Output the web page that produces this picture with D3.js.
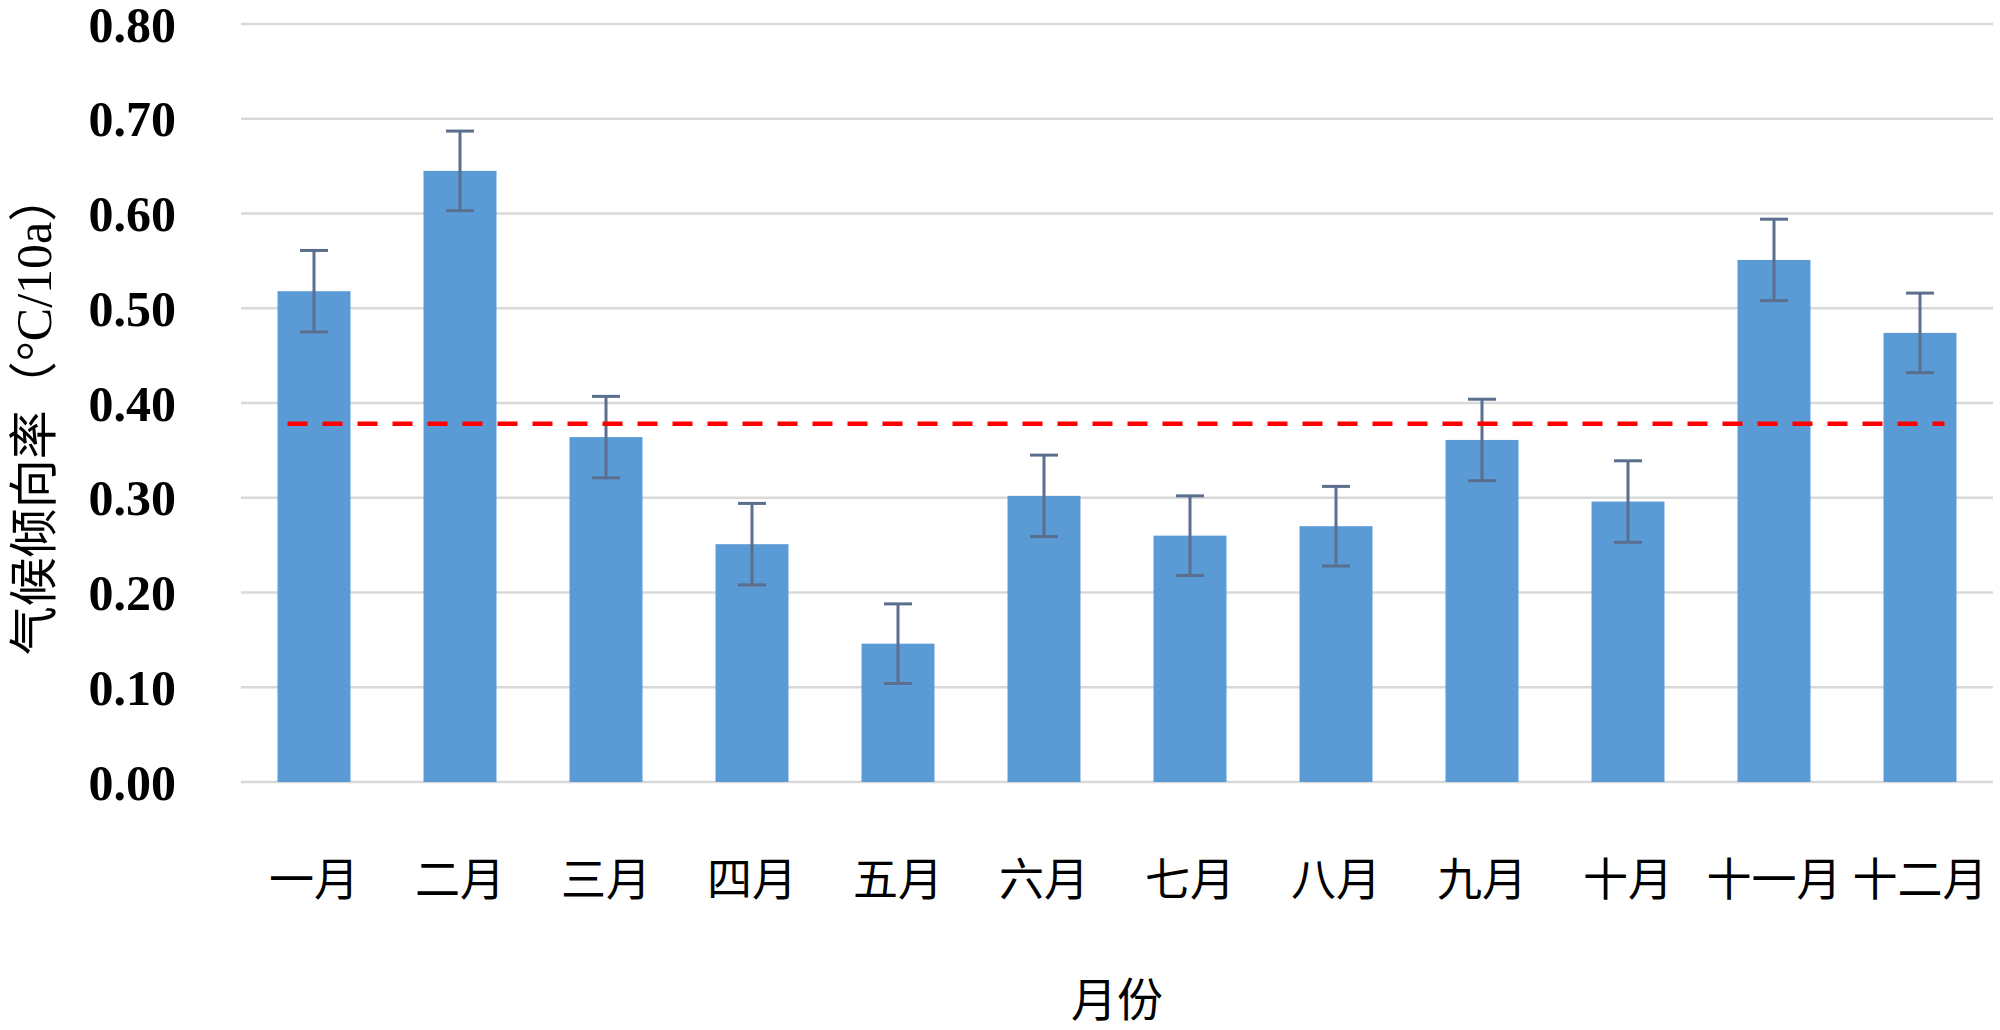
<!DOCTYPE html>
<html><head><meta charset="utf-8">
<script src="https://cdn.jsdelivr.net/npm/d3@7"></script>
<style>body{margin:0;background:#fff}svg{display:block}</style>
</head><body>
<script>
const months = ["一月","二月","三月","四月","五月","六月","七月","八月","九月","十月","十一月","十二月"];
const rates = [0.518, 0.645, 0.364, 0.251, 0.146, 0.302, 0.260, 0.270, 0.361, 0.296, 0.551, 0.474];
const errs  = [0.043, 0.042, 0.043, 0.043, 0.042, 0.043, 0.042, 0.042, 0.043, 0.043, 0.043, 0.042];
const meanRate = 0.378;
const yTicks = [0,0.1,0.2,0.3,0.4,0.5,0.6,0.7,0.8];

const W=2000,H=1030;
const m={left:241,right:7,top:24,bottom:248};
const svg=d3.select("body").append("svg").attr("width",W).attr("height",H);
const x=d3.scaleBand().domain(months).range([m.left,W-m.right]).paddingInner(0.5).paddingOuter(0.25);
const y=d3.scaleLinear().domain([0,0.8]).range([H-m.bottom,m.top]);

// gridlines
svg.append("g").selectAll("line").data(yTicks).join("line")
  .attr("x1",m.left).attr("x2",W-m.right)
  .attr("y1",d=>y(d)).attr("y2",d=>y(d))
  .attr("stroke","#d9d9d9").attr("stroke-width",2.5);

// y tick labels
svg.append("g").selectAll("text").data(yTicks).join("text")
  .attr("x",176).attr("y",d=>y(d)).attr("dy","0.35em")
  .attr("text-anchor","end")
  .attr("font-family","'Liberation Serif','Times New Roman',serif")
  .attr("font-weight","bold").attr("font-size",50)
  .text(d=>d.toFixed(2));

// bars
svg.append("g").selectAll("rect").data(months).join("rect")
  .attr("x",d=>x(d)).attr("width",x.bandwidth())
  .attr("y",(d,i)=>y(rates[i])).attr("height",(d,i)=>y(0)-y(rates[i]))
  .attr("fill","#5b9bd5");

// error bars
const eb=svg.append("g").attr("stroke","#5a6e8e").attr("stroke-width",3);
months.forEach((mo,i)=>{
  const cx=x(mo)+x.bandwidth()/2;
  const hi=y(rates[i]+errs[i]), lo=y(rates[i]-errs[i]);
  eb.append("line").attr("x1",cx).attr("x2",cx).attr("y1",hi).attr("y2",lo);
  eb.append("line").attr("x1",cx-14).attr("x2",cx+14).attr("y1",hi).attr("y2",hi);
  eb.append("line").attr("x1",cx-14).attr("x2",cx+14).attr("y1",lo).attr("y2",lo);
});

// mean dashed line
svg.append("line")
  .attr("x1",x(months[0])+10).attr("x2",x(months[11])+x.bandwidth()-12)
  .attr("y1",y(meanRate)).attr("y2",y(meanRate))
  .attr("stroke","#ff0000").attr("stroke-width",4.5)
  .attr("stroke-dasharray","20,15");

// x labels
svg.append("g").selectAll("text").data(months).join("text")
  .attr("x",d=>x(d)+x.bandwidth()/2).attr("y",880).attr("dy","0.35em")
  .attr("text-anchor","middle")
  .attr("font-family","'Noto Sans CJK SC',sans-serif").attr("font-size",45)
  .text(d=>d);

// x title
svg.append("text").attr("x",(m.left+W-m.right)/2).attr("y",1000).attr("dy","0.35em")
  .attr("text-anchor","middle")
  .attr("font-family","'Noto Sans CJK SC',sans-serif").attr("font-size",46)
  .text("月份");

// y title
const yt=svg.append("text").attr("transform","translate(34,414) rotate(-90)")
  .attr("dy","0.35em").attr("text-anchor","middle")
  .attr("font-family","'Noto Sans CJK SC',sans-serif").attr("font-size",49);
yt.append("tspan").text("气候倾向率（");
yt.append("tspan").attr("font-family","'Liberation Serif','Times New Roman',serif").attr("font-size",50).text("°C/10a");
yt.append("tspan").text("）");
</script>
</body></html>
